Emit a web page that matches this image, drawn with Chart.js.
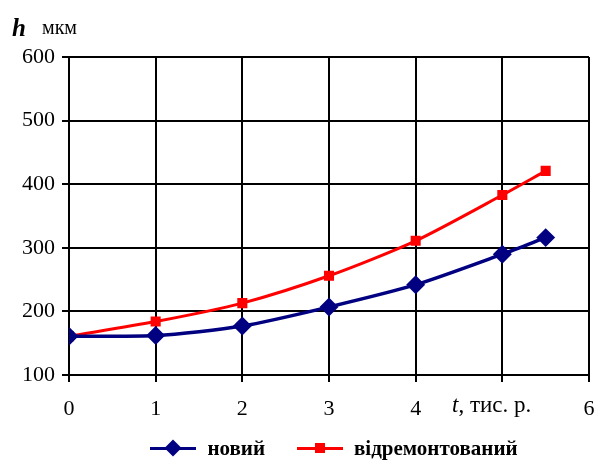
<!DOCTYPE html>
<html>
<head>
<meta charset="utf-8">
<script src="https://cdn.jsdelivr.net/npm/chart.js@4"></script>
<style>
  body { margin: 0; background: #fff; }
  #wrap { position: relative; width: 600px; height: 460px; font-family: "Liberation Serif", "Times New Roman", serif; }
  #chart { position: absolute; left: 0; top: 0; }
  .lbl { position: absolute; white-space: nowrap; color: #000; line-height: 1; }
  .legend { position: absolute; top: 436px; left: 34px; width: 600px; display: flex; justify-content: center; font-weight: bold; font-size: 21px; line-height: 24px; }
  .item { display: flex; align-items: center; margin: 0 16px; }
  .sw { position: relative; width: 46px; height: 24px; margin-right: 11px; }
  .sw .ln { position: absolute; left: 0; right: 0; top: 11px; height: 3px; }
  .sw .mk { position: absolute; left: 50%; top: 12px; }
</style>
</head>
<body>
<div id="wrap">
  <canvas id="chart" width="600" height="460"></canvas>
  <div class="lbl" style="left:12px; top:15px; font-size:25px; font-weight:bold; font-style:italic;">h</div>
  <div class="lbl" style="left:42px; top:17px; font-size:20px;">мкм</div>
  <div class="lbl" style="left:452px; top:393px; font-size:23px;"><i>t</i>, тис. р.</div>
  <div class="legend">
    <div class="item">
      <div class="sw"><div class="ln" style="background:#000080"></div>
        <div class="mk" style="width:12px;height:12px;background:#000080;transform:translate(-50%,-50%) rotate(45deg);"></div></div>
      <span>новий</span>
    </div>
    <div class="item">
      <div class="sw"><div class="ln" style="background:#ff0000"></div>
        <div class="mk" style="width:10px;height:10px;background:#ff0000;transform:translate(-50%,-50%);"></div></div>
      <span>відремонтований</span>
    </div>
  </div>
</div>
<script>
// time, thousand km
const tValues = [0, 1, 2, 3, 4, 5, 5.5];
// wear h, μm
const novyi = [161, 162, 177, 207, 242, 290, 316];
const vidremontovanyi = [161, 184, 213, 256, 311, 383, 421];
const yTicks = [100, 200, 300, 400, 500, 600];
const xTicks = [0, 1, 2, 3, 4, 5, 6];

function points(ys) {
  return tValues.map((t, i) => ({ x: t, y: ys[i] }));
}

new Chart(document.getElementById("chart"), {
  type: "line",
  data: {
    datasets: [
      {
        label: "новий",
        data: points(novyi),
        borderColor: "#000080",
        backgroundColor: "#000080",
        borderWidth: 3.5,
        pointStyle: "rectRot",
        pointRadius: 7,
        pointHoverRadius: 7,
        tension: 0.25,
      },
      {
        label: "відремонтований",
        data: points(vidremontovanyi),
        borderColor: "#ff0000",
        backgroundColor: "#ff0000",
        borderWidth: 3,
        pointStyle: "rect",
        pointRadius: 5,
        pointHoverRadius: 5,
        tension: 0.25,
      },
    ],
  },
  options: {
    responsive: false,
    animation: false,
    layout: { padding: { top: 57, right: 11, left: 0, bottom: 0 } },
    plugins: { legend: { display: false }, tooltip: { enabled: false } },
    scales: {
      x: {
        type: "linear",
        min: 0,
        max: 6,
        afterBuildTicks: (axis) => { axis.ticks = xTicks.map((v) => ({ value: v })); },
        afterFit: (axis) => {
          axis.height = 85;
          axis.paddingLeft = 0;
          axis.paddingRight = 0;
        },
        ticks: {
          color: "#000",
          padding: 14,
          maxRotation: 0,
          font: { family: "Liberation Serif", size: 22 },
          callback: (v) => (v === 5 ? "" : String(v)),
        },
        grid: { color: "#000", lineWidth: 2, tickLength: 7 },
        border: { color: "#000", width: 2 },
      },
      y: {
        min: 100,
        max: 600,
        afterBuildTicks: (axis) => { axis.ticks = yTicks.map((v) => ({ value: v })); },
        afterFit: (axis) => {
          axis.width = 69;
          axis.paddingTop = 0;
          axis.paddingBottom = 0;
        },
        ticks: {
          color: "#000",
          padding: 7,
          font: { family: "Liberation Serif", size: 22 },
        },
        grid: { color: "#000", lineWidth: 2, tickLength: 7 },
        border: { color: "#000", width: 2 },
      },
    },
  },
});
</script>
</body>
</html>
